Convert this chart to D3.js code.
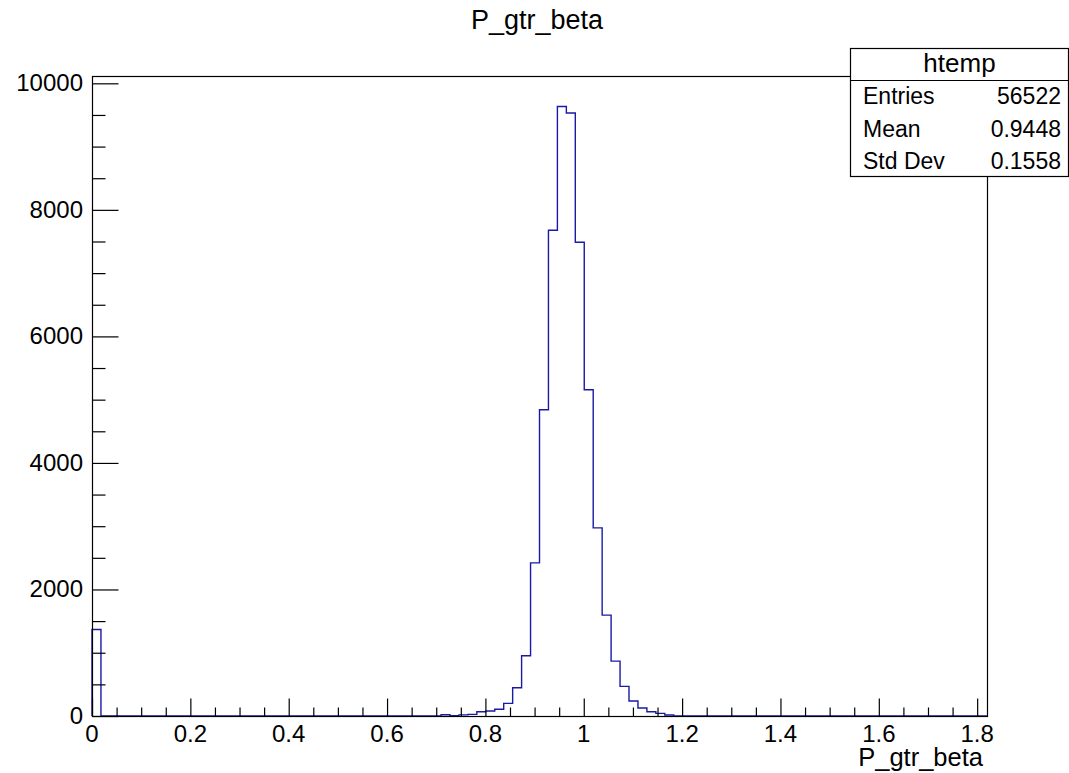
<!DOCTYPE html>
<html>
<head>
<meta charset="utf-8">
<script src="https://cdn.jsdelivr.net/npm/d3@7"></script>
<style>
  body { margin: 0; background: #fff; }
  svg { display: block; font-family: "Liberation Sans", Arial, sans-serif; }
  .axis path, .axis line { stroke: #000; }
</style>
</head>
<body>
<div id="chart"></div>
<script>
// histogram "htemp" of P_gtr_beta, 100 bins over [0, 1.82]
const nBins = 100;
const xMin = 0, xMax = 1.82;
const counts = [
  1368, 0, 0, 0, 0, 0, 0, 0, 0, 0, 0, 0, 0, 0, 0, 0, 0, 0, 0, 0,
  0, 0, 0, 0, 0, 0, 0, 0, 0, 0, 0, 0, 0, 0, 0, 0, 0, 0, 0, 20,
  3, 18, 25, 68, 79, 106, 200, 447, 952, 2420, 4841, 7677, 9634, 9530, 7487, 5157, 2973, 1594, 868, 469,
  237, 126, 68, 42, 16, 0, 0, 0, 0, 0, 0, 0, 0, 0, 0, 0, 0, 0, 0, 0,
  0, 0, 0, 0, 0, 0, 0, 0, 0, 0, 0, 0, 0, 0, 0, 0, 0, 0, 0, 0
];
const xTicks = [0, 0.2, 0.4, 0.6, 0.8, 1, 1.2, 1.4, 1.6, 1.8];
const yTicks = [0, 2000, 4000, 6000, 8000, 10000];
const statNames = ['Entries', 'Mean', 'Std Dev'];
const statValues = ['56522', '0.9448', '0.1558'];
const histName = 'htemp';
const varName = 'P_gtr_beta';

const W = 1069, H = 773;
const frame = { left: 92, right: 987, top: 76, bottom: 716 };

const svg = d3.select('#chart').append('svg')
    .attr('width', W)
    .attr('height', H);

const x = d3.scaleLinear()
    .domain([xMin, xMax])
    .range([frame.left, frame.right]);

const y = d3.scaleLinear()
    .domain([0, d3.max(counts) * 1.05])
    .range([frame.bottom, frame.top]);

const binW = (xMax - xMin) / nBins;

// title
svg.append('text')
    .attr('x', 537)
    .attr('y', 29)
    .attr('text-anchor', 'middle')
    .attr('font-size', 27)
    .text(varName);

// histogram outline (step), drawn before the frame so the axes sit on top
const pts = [[xMin, 0]];
counts.forEach((c, i) => {
    pts.push([xMin + i * binW, c]);
    pts.push([xMin + (i + 1) * binW, c]);
});
pts.push([xMax, 0]);

svg.append('path')
    .datum(pts)
    .attr('fill', 'none')
    .attr('stroke', '#1a1aa6')
    .attr('stroke-width', 1.4)
    .attr('d', d3.line().x(d => x(d[0])).y(d => y(d[1])));

// frame
svg.append('rect')
    .attr('x', frame.left + 0.5)
    .attr('y', frame.top + 0.5)
    .attr('width', frame.right - frame.left)
    .attr('height', frame.bottom - frame.top)
    .attr('fill', 'none')
    .attr('stroke', '#000')
    .attr('stroke-width', 1.2);

// x axis: ticks drawn inward (upward)
const xMinor = d3.range(0, xMax + 1e-9, 0.05).filter(v => xTicks.every(t => Math.abs(t - v) > 1e-6));
const gx = svg.append('g')
    .attr('class', 'axis')
    .attr('transform', `translate(0,${frame.bottom + 0.5})`);
gx.call(d3.axisTop(x).tickValues(xTicks).tickSize(18).tickFormat(''))
    .call(g => g.select('.domain').remove());
gx.append('g')
    .call(d3.axisTop(x).tickValues(xMinor).tickSize(9).tickFormat(''))
    .call(g => g.select('.domain').remove());
gx.selectAll('.tick line').attr('stroke-width', 1.2);
svg.append('g')
    .selectAll('text')
    .data(xTicks)
    .enter()
    .append('text')
        .attr('x', d => x(d))
        .attr('y', 742)
        .attr('text-anchor', 'middle')
        .attr('font-size', 24)
        .text(d => d3.format('')(d));

// y axis: ticks drawn inward (rightward)
const yMinor = d3.range(0, 10001, 500).filter(v => v % 2000 !== 0);
const gy = svg.append('g')
    .attr('class', 'axis')
    .attr('transform', `translate(${frame.left + 0.5},0)`);
gy.call(d3.axisRight(y).tickValues(yTicks).tickSize(26).tickFormat(''))
    .call(g => g.select('.domain').remove());
gy.append('g')
    .call(d3.axisRight(y).tickValues(yMinor).tickSize(13).tickFormat(''))
    .call(g => g.select('.domain').remove());
gy.selectAll('.tick line').attr('stroke-width', 1.2);
svg.append('g')
    .selectAll('text')
    .data(yTicks)
    .enter()
    .append('text')
        .attr('x', 83)
        .attr('y', d => y(d) + 8)
        .attr('text-anchor', 'end')
        .attr('font-size', 24)
        .text(d => d);

// x axis title
svg.append('text')
    .attr('x', 983)
    .attr('y', 766)
    .attr('text-anchor', 'end')
    .attr('font-size', 25.5)
    .text(varName);

// stats box
const box = { left: 850.5, right: 1068.5, top: 48.5, bottom: 176.5, head: 80.5 };
svg.append('rect')
    .attr('x', box.left)
    .attr('y', box.top)
    .attr('width', box.right - box.left)
    .attr('height', box.bottom - box.top)
    .attr('fill', '#fff')
    .attr('stroke', '#000')
    .attr('stroke-width', 1.2);
svg.append('line')
    .attr('x1', box.left).attr('x2', box.right)
    .attr('y1', box.head).attr('y2', box.head)
    .attr('stroke', '#000')
    .attr('stroke-width', 1.2);
svg.append('text')
    .attr('x', (box.left + box.right) / 2)
    .attr('y', 72)
    .attr('text-anchor', 'middle')
    .attr('font-size', 26)
    .text(histName);
const rowY = [104, 137, 169];
statNames.forEach((n, i) => {
    svg.append('text')
        .attr('x', 863)
        .attr('y', rowY[i])
        .attr('font-size', 23)
        .text(n);
    svg.append('text')
        .attr('x', 1061)
        .attr('y', rowY[i])
        .attr('text-anchor', 'end')
        .attr('font-size', 23)
        .text(statValues[i]);
});
</script>
</body>
</html>
